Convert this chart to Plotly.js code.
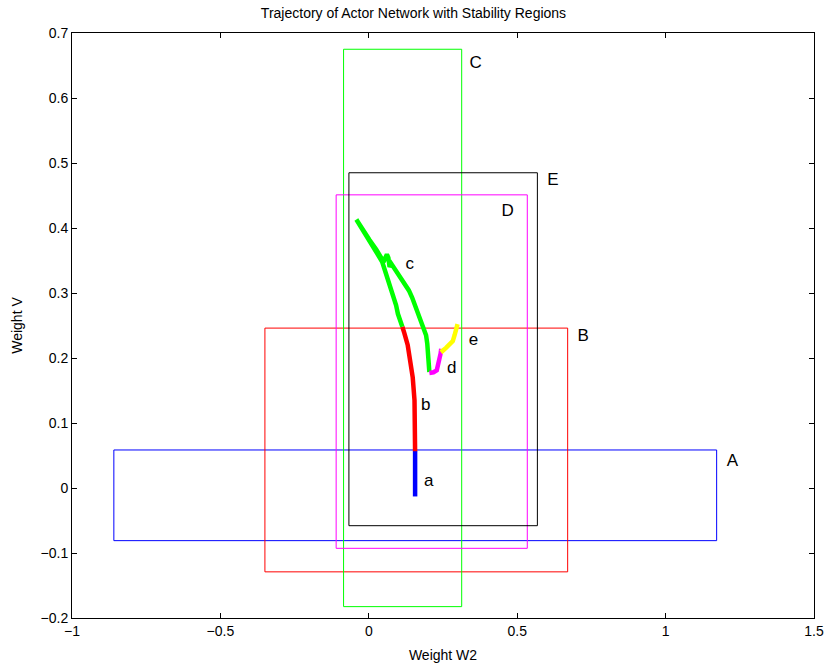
<!DOCTYPE html>
<html>
<head>
<meta charset="utf-8">
<script src="https://cdn.plot.ly/plotly-3.0.1.min.js"></script>
<style>html,body{margin:0;padding:0;background:#fff;}#chart{width:827px;height:664px;}</style>
</head>
<body>
<div id="chart"></div>
<script>
// Stability regions: [xmin, xmax, ymin, ymax]
const regionNames = ['A', 'B', 'C', 'D', 'E'];
const regionX0 = [-0.859, -0.350, -0.085, -0.110, -0.067];
const regionX1 = [1.172, 0.670, 0.313, 0.534, 0.568];
const regionY0 = [-0.081, -0.129, -0.1825, -0.0928, -0.058];
const regionY1 = [0.0585, 0.246, 0.675, 0.451, 0.485];
const regionColors = ['#0000ff', '#ff0000', '#00ff00', '#ff00ff', '#000000'];
const regionLabelX = [1.225, 0.722, 0.360, 0.468, 0.620];
const regionLabelY = [0.041, 0.233, 0.652, 0.425, 0.472];

// Trajectory segments
const segA_x = [0.156, 0.156, 0.156];
const segA_y = [-0.013, 0.02, 0.057];
const segB_x = [0.156, 0.156, 0.154, 0.148, 0.141, 0.131, 0.120, 0.113];
const segB_y = [0.0565, 0.104, 0.135, 0.170, 0.196, 0.220, 0.238, 0.248];
const segC_x = [0.113, 0.104, 0.098, 0.092, 0.085, 0.076, 0.068, 0.061, 0.055, 0.050, 0.045,
                0.036, 0.019, 0.002, -0.020, -0.042,
                -0.020, 0.002, 0.025, 0.042, 0.053, 0.061, 0.066, 0.070, 0.076, 0.087, 0.098,
                0.109, 0.124, 0.135, 0.146, 0.157, 0.166, 0.178, 0.188, 0.193, 0.197, 0.200, 0.202, 0.204];
const segC_y = [0.248, 0.258, 0.268, 0.281, 0.291, 0.302, 0.312, 0.322, 0.332, 0.341, 0.348,
                0.355, 0.368, 0.381, 0.3965, 0.413,
                0.3975, 0.382, 0.367, 0.354, 0.351, 0.3595, 0.354, 0.340, 0.345, 0.3375, 0.329,
                0.3195, 0.310, 0.304, 0.293, 0.2795, 0.269, 0.257, 0.245, 0.235, 0.222, 0.207, 0.191, 0.1785];
const segD_x = [0.204, 0.218, 0.229, 0.234, 0.236, 0.242, 0.244];
const segD_y = [0.177, 0.178, 0.181, 0.189, 0.1975, 0.207, 0.214];
const segE_x = [0.244, 0.249, 0.261, 0.274, 0.283, 0.289, 0.294, 0.299];
const segE_y = [0.214, 0.211, 0.216, 0.222, 0.226, 0.235, 0.243, 0.252];
const segColors = ['#0000ff', '#ff0000', '#00ff00', '#ff00ff', '#ffff00'];
const segLabels = ['a', 'b', 'c', 'd', 'e'];
const segLabelX = [0.202, 0.192, 0.138, 0.279, 0.353];
const segLabelY = [0.010, 0.126, 0.344, 0.184, 0.226];

const FONT = 'Liberation Sans, Arial, sans-serif';
const traces = [];
for (let i = 0; i < regionNames.length; i++) {
  traces.push({
    type: 'scatter', mode: 'lines',
    x: [regionX0[i], regionX1[i], regionX1[i], regionX0[i], regionX0[i]],
    y: [regionY0[i], regionY0[i], regionY1[i], regionY1[i], regionY0[i]],
    line: {color: regionColors[i], width: 1},
    hoverinfo: 'skip', showlegend: false
  });
}
const segX = [segA_x, segB_x, segC_x, segD_x, segE_x];
const segY = [segA_y, segB_y, segC_y, segD_y, segE_y];
for (let i = 0; i < segX.length; i++) {
  traces.push({
    type: 'scatter', mode: 'lines',
    x: segX[i], y: segY[i],
    line: {color: segColors[i], width: 4.5},
    hoverinfo: 'skip', showlegend: false
  });
}
traces.push({
  type: 'scatter', mode: 'text',
  x: regionLabelX.concat(segLabelX), y: regionLabelY.concat(segLabelY),
  text: regionNames.concat(segLabels),
  textposition: 'middle center',
  textfont: {family: FONT, size: 17, color: '#000'},
  hoverinfo: 'skip', showlegend: false
});

const axisCommon = {
  showgrid: false, zeroline: false,
  showline: true, linecolor: '#000', linewidth: 1, mirror: 'allticks',
  ticks: 'inside', ticklen: 5, tickcolor: '#000', tickwidth: 1,
  tickfont: {family: FONT, size: 14, color: '#000'}
};
const layout = {
  width: 827, height: 664,
  margin: {l: 72, r: 13, t: 33, b: 46},
  paper_bgcolor: '#fff', plot_bgcolor: '#fff',
  title: {text: 'Trajectory of Actor Network with Stability Regions',
          font: {family: FONT, size: 14, color: '#000'},
          x: 0.5, xanchor: 'center', y: 0.988, yanchor: 'top'},
  xaxis: Object.assign({}, axisCommon, {
    range: [-1, 1.5], tickvals: [-1, -0.5, 0, 0.5, 1, 1.5],
    ticktext: ['\u22121', '\u22120.5', '0', '0.5', '1', '1.5'],
    title: {text: 'Weight W2', font: {family: FONT, size: 14, color: '#000'}, standoff: 12}
  }),
  yaxis: Object.assign({}, axisCommon, {
    range: [-0.2, 0.7], tickvals: [-0.2, -0.1, 0, 0.1, 0.2, 0.3, 0.4, 0.5, 0.6, 0.7],
    ticktext: ['\u22120.2', '\u22120.1', '0', '0.1', '0.2', '0.3', '0.4', '0.5', '0.6', '0.7'],
    title: {text: 'Weight V', font: {family: FONT, size: 14, color: '#000'}, standoff: 14}
  }),
  showlegend: false
};
Plotly.newPlot('chart', traces, layout, {staticPlot: true, displayModeBar: false});
</script>
</body>
</html>
